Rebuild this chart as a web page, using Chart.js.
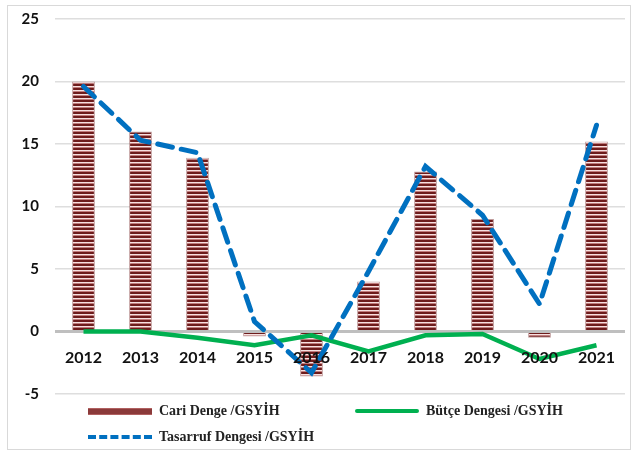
<!DOCTYPE html>
<html>
<head>
<meta charset="utf-8">
<script src="https://cdn.jsdelivr.net/npm/chart.js@4"></script>
<style>
  body { margin: 0; background: #fff; }
  #wrap { position: relative; width: 640px; height: 452px; overflow: hidden; }
  #chart { display: block; position: absolute; left: 0; top: -6px; }
  #frame { position: absolute; left: 7px; top: 5px; width: 624px; height: 445px; border: 1px solid #d9d9d9; box-sizing: border-box; pointer-events: none; }
  .leg { position: absolute; font: bold 14px "Liberation Serif", serif; color: #222; display: flex; align-items: center; }
  .sw { display: inline-block; width: 64px; margin-right: 7px; }
</style>
</head>
<body>
<div id="wrap">
  <canvas id="chart" width="640" height="458"></canvas>
  <div id="frame"></div>
  <div class="leg" style="left:88px; top:403px;"><span class="sw" style="height:5px; background:#8b3a3a; border-top:1px solid #b06060; border-bottom:1px solid #b06060;"></span>Cari Denge /GSYİH</div>
  <div class="leg" style="left:355px; top:403px;"><span class="sw" style="height:4px; background:#00b050; border-radius:2px;"></span>Bütçe Dengesi /GSYİH</div>
  <div class="leg" style="left:88px; top:429px;"><span class="sw" style="height:0; border-top:4px dashed #0070c0;"></span>Tasarruf Dengesi /GSYİH</div>
</div>
<script>
// Chart values
const years = ['2012', '2013', '2014', '2015', '2016', '2017', '2018', '2019', '2020', '2021'];
const cariDenge = [20.0, 16.0, 13.9, -0.4, -3.6, 4.0, 12.8, 9.0, -0.5, 15.2];
const butceDengesi = [0.0, 0.0, -0.5, -1.1, -0.3, -1.6, -0.3, -0.2, -2.2, -1.1];
const tasarrufDengesi = [19.6, 15.3, 14.3, 0.8, -3.3, 4.8, 13.2, 9.3, 2.2, 16.5];
const yTicks = [-5, 0, 5, 10, 15, 20, 25];

// Striped fill for the bars
function stripePattern() {
  const c = document.createElement('canvas');
  c.width = 4; c.height = 4;
  const g = c.getContext('2d');
  g.fillStyle = '#f6e0e0';
  g.fillRect(0, 0, 4, 4);
  g.fillStyle = '#c07c7c';
  g.fillRect(0, 1, 4, 1);
  g.fillStyle = '#6e1c1c';
  g.fillRect(0, 2, 4, 2);
  return g.createPattern(c, 'repeat');
}

new Chart(document.getElementById('chart'), {
  type: 'bar',
  data: {
    labels: years,
    datasets: [
      {
        type: 'line',
        label: 'Tasarruf Dengesi /GSYİH',
        data: tasarrufDengesi,
        borderColor: '#0070c0',
        borderWidth: 5,
        borderDash: [15, 9],
        borderCapStyle: 'round',
        pointRadius: 0,
        tension: 0,
        order: 1
      },
      {
        type: 'line',
        label: 'Bütçe Dengesi /GSYİH',
        data: butceDengesi,
        borderColor: '#00b050',
        borderWidth: 4.5,
        pointRadius: 0,
        tension: 0,
        order: 2
      },
      {
        label: 'Cari Denge /GSYİH',
        data: cariDenge,
        backgroundColor: stripePattern(),
        borderColor: 'rgba(150, 90, 90, 0.6)',
        borderWidth: 1,
        barPercentage: 0.8,
        categoryPercentage: 0.5,
        order: 3
      }
    ]
  },
  options: {
    responsive: false,
    animation: false,
    layout: { padding: { left: 10, right: 15, top: 0, bottom: 58 } },
    plugins: {
      legend: { display: false },
      tooltip: { enabled: false }
    },
    scales: {
      x: {
        position: { y: 0 },
        grid: { display: false },
        border: { display: false },
        ticks: {
          z: 1,
          color: '#111',
          padding: 9,
          font: { family: 'Lato', weight: 'bold', size: 16 }
        }
      },
      y: {
        min: -5,
        max: 25,
        afterBuildTicks: axis => { axis.ticks = yTicks.map(v => ({ value: v })); },
        afterFit: axis => { axis.width = 45; },
        border: { display: false },
        grid: {
          color: ctx => ctx.tick && ctx.tick.value === 0 ? '#bfbfbf' : '#dedede',
          lineWidth: ctx => ctx.tick && ctx.tick.value === 0 ? 3 : 1.5,
          drawTicks: false
        },
        ticks: {
          color: '#111',
          padding: 16,
          font: { family: 'Lato', weight: 'bold', size: 15 }
        }
      }
    }
  }
});
</script>
</body>
</html>
